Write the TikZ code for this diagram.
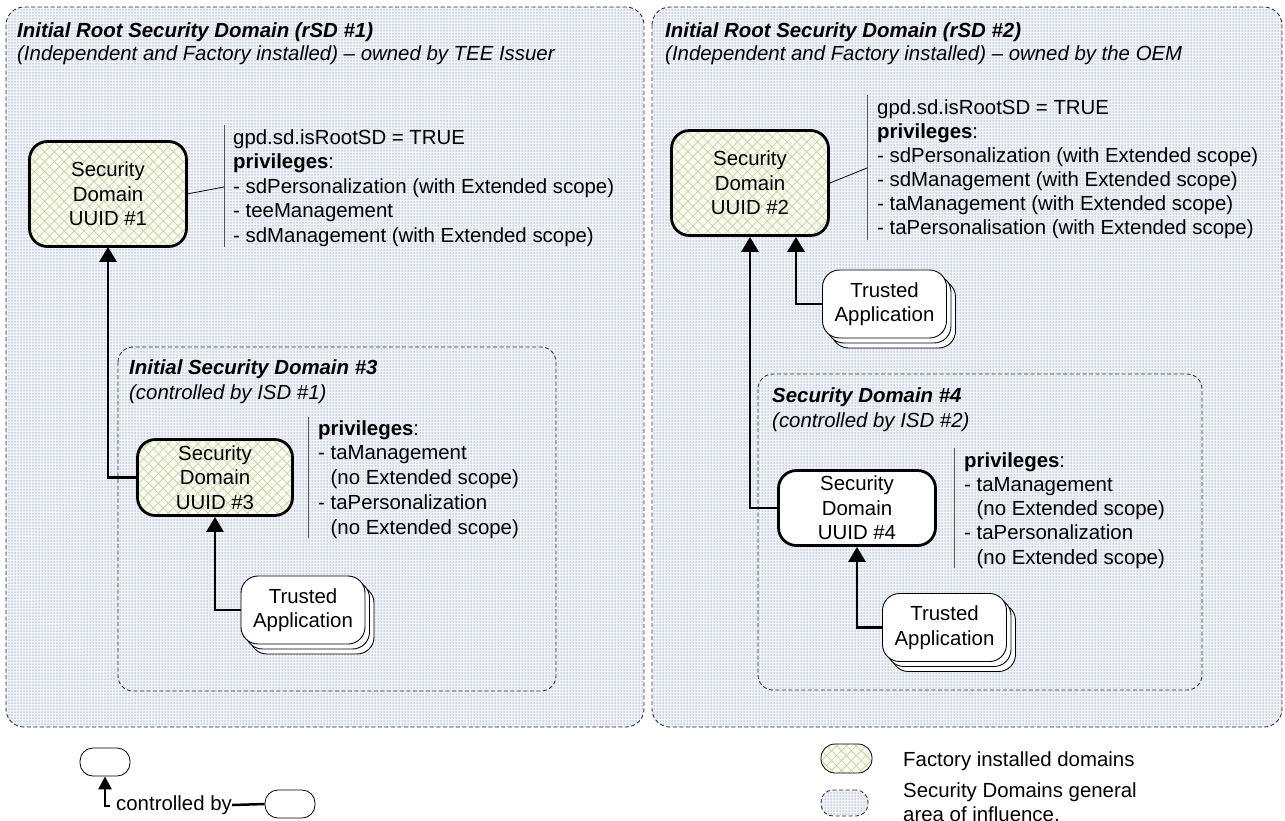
\documentclass[tikz,border=0pt]{standalone}
\usepackage{fontspec}
\setmainfont{Liberation Sans}
\usetikzlibrary{arrows.meta,patterns.meta}
\definecolor{bgcol}{HTML}{F1F3F8}
\definecolor{dotcol}{HTML}{A9B6D0}
\definecolor{creamcol}{HTML}{FAFBF1}
\definecolor{hatchcol}{HTML}{C9D7A3}
\definecolor{bordercol}{HTML}{333333}
\definecolor{sepcol}{HTML}{555555}
\begin{document}
\begin{tikzpicture}[x=1pt,y=-1pt,
  every node/.style={font=\fontsize{20.4}{24.5}\selectfont, inner sep=0pt},
  area/.style={draw=bordercol, line width=0.9pt, dash pattern=on 4pt off 2.5pt,
    preaction={fill=bgcol}, pattern={Dots[radius=0.75pt,distance=3pt]}, pattern color=dotcol},
  factory/.style={preaction={fill=creamcol}, pattern={Hatch[angle=45,distance=7pt,line width=0.8pt]}, pattern color=hatchcol},
  sdbox/.style={draw=black, line width=2.8pt, rounded corners=18pt, align=center},
  tabox/.style={draw=black, line width=0.9pt, fill=white, rounded corners=17pt, align=center,
    minimum width=124pt, minimum height=68pt},
  conn/.style={draw=black, line width=2.8pt, -{Triangle[width=17pt,length=15pt]}},
  sepline/.style={draw=sepcol, line width=0.9pt},
  thinline/.style={draw=black, line width=0.8pt},
  pill/.style={draw=black, line width=0.8pt, fill=white, rounded corners=13pt, minimum width=50pt, minimum height=28pt},
  ttl/.style={anchor=base west, font=\fontsize{20.4}{24.5}\selectfont\bfseries\itshape},
  sub/.style={anchor=base west, font=\fontsize{20.4}{24.5}\selectfont\itshape},
  priv/.style={anchor=base west, align=left}
]
\useasboundingbox (0,0) rectangle (1285,820);
\clip (0,0) rectangle (1285,820);

% ---------- areas ----------
\path[area, rounded corners=18pt] (6,7) rectangle (644,727);
\path[area, rounded corners=18pt] (652,7) rectangle (1282,727);
\path[area, rounded corners=15pt] (118,347) rectangle (556,691);
\path[area, rounded corners=15pt] (758,374) rectangle (1202,690);

% ---------- titles ----------
\node[ttl] (t1) at (17,37) {Initial Root Security Domain (rSD \#1)};
\node[sub] (s1) at (17,60) {(Independent and Factory installed) -- owned by TEE Issuer};
\node[ttl] (t2) at (665,37) {Initial Root Security Domain (rSD \#2)};
\node[sub] (s2) at (665,60) {(Independent and Factory installed) -- owned by the OEM};
\node[ttl] (t3) at (129,374) {Initial Security Domain \#3};
\node[sub] (s3) at (129,399) {(controlled by ISD \#1)};
\node[ttl] (t4) at (772,402) {Security Domain \#4};
\node[sub] (s4) at (772,427) {(controlled by ISD \#2)};

% ---------- security domain boxes ----------
\node[sdbox, factory, minimum width=157pt, minimum height=105pt] (sd1) at (108,194) {Security\\Domain\\UUID \#1};
\node[sdbox, factory, minimum width=155pt, minimum height=76pt] (sd3) at (215,477.5) {Security\\Domain\\UUID \#3};
\node[sdbox, factory, minimum width=157pt, minimum height=105pt] (sd2) at (750,183) {Security\\Domain\\UUID \#2};
\node[sdbox, fill=white, minimum width=157pt, minimum height=75pt] (sd4) at (857,508) {Security\\Domain\\UUID \#4};

% ---------- trusted applications (stacked) ----------
\node[tabox] (ta1c) at (312,620) {};
\node[tabox] (ta1b) at (307.5,615) {};
\node[tabox] (ta1) at (303,610) {Trusted\\Application};

\node[tabox] (ta2c) at (893.5,314) {};
\node[tabox] (ta2b) at (889,309) {};
\node[tabox] (ta2) at (884.5,304) {Trusted\\Application};

\node[tabox] (ta3c) at (953.5,637.5) {};
\node[tabox] (ta3b) at (949,632.5) {};
\node[tabox] (ta3) at (944.5,627.5) {Trusted\\Application};

% ---------- privilege texts (anchored at the baseline of the last line) ----------
\coordinate (v1a) at (224,125); \coordinate (v1b) at (224,247);
\draw[sepline] (v1a) -- (v1b);
\coordinate (c1) at (224,187);
\draw[thinline] (sd1.east) -- (c1);
\node[priv] (p1) at (233,242) {gpd.sd.isRootSD = TRUE\\\textbf{privileges}:\\- sdPersonalization (with Extended scope)\\- teeManagement\\- sdManagement (with Extended scope)};

\coordinate (v2a) at (867,95); \coordinate (v2b) at (867,240);
\draw[sepline] (v2a) -- (v2b);
\coordinate (c2) at (867,168);
\draw[thinline] (sd2.east) -- (c2);
\node[priv, font=\fontsize{20.4}{24}\selectfont] (p2) at (877,234) {gpd.sd.isRootSD = TRUE\\\textbf{privileges}:\\- sdPersonalization (with Extended scope)\\- sdManagement (with Extended scope)\\- taManagement (with Extended scope)\\- taPersonalisation (with Extended scope)};

\coordinate (v3a) at (308,417); \coordinate (v3b) at (308,538);
\draw[sepline] (v3a) -- (v3b);
\node[priv, font=\fontsize{20.4}{24.75}\selectfont] (p3) at (318,534) {\textbf{privileges}:\\- taManagement\\\phantom{- }(no Extended scope)\\- taPersonalization\\\phantom{- }(no Extended scope)};

\coordinate (v4a) at (954,448); \coordinate (v4b) at (954,568);
\draw[sepline] (v4a) -- (v4b);
\node[priv, font=\fontsize{20.4}{24.25}\selectfont] (p4) at (964,564) {\textbf{privileges}:\\- taManagement\\\phantom{- }(no Extended scope)\\- taPersonalization\\\phantom{- }(no Extended scope)};

% ---------- control arrows ----------
\draw[conn] (ta1.west) -| (sd3.south);
\draw[conn] (sd3.west) -| (sd1.south);
\draw[conn] (ta2.west) -| ([xshift=46pt]sd2.south);
\draw[conn] (sd4.west) -| (sd2.south);
\draw[conn] (ta3.west) -| (sd4.south);

% ---------- legend ----------
\node[pill] (lg1) at (105,762) {};
\node[pill] (lg2) at (290,804) {};
\coordinate (lgtail) at (110,806);
\draw[conn, -{Triangle[width=13pt,length=13pt]}] (lgtail) -| (lg1.south);
\node[anchor=west] (lgtext) at (116,805) {controlled by};
\draw[draw=black, line width=2.5pt] (lgtext.east) -- (lg2.west);

\node[pill, factory, minimum width=51pt, minimum height=29pt, rounded corners=14pt] (lg3) at (846.5,758.5) {};
\node[anchor=base west] (lg3t) at (903,766) {Factory installed domains};
\node[pill, area, minimum width=47pt, minimum height=26pt, rounded corners=12pt] (lg4) at (844.5,803) {};
\node[anchor=base west, align=left] (lg4t) at (903,821.5) {Security Domains general\\area of influence.};
\end{tikzpicture}
\end{document}
